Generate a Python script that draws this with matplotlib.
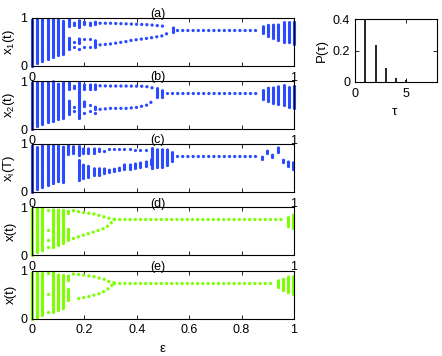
import matplotlib
matplotlib.use('Agg')
import matplotlib.pyplot as plt

plt.rcParams['font.family'] = ['Liberation Sans', 'DejaVu Sans']
plt.rcParams['mathtext.default'] = 'regular'
plt.rcParams['font.size'] = 9

BLUE = '#2a4bff'
GREEN = '#7cff00'

# ---------------- panel (a) ----------------
a_seg_eps = [0, 0.02, 0.04, 0.06, 0.08, 0.10, 0.12,
             0.14, 0.14, 0.16, 0.18, 0.18, 0.18, 0.20, 0.22, 0.24, 0.24, 0.537,
             0.88, 0.90, 0.92, 0.94, 0.96, 0.98, 1.0]
a_seg_lo = [0, 0.06, 0.11, 0.15, 0.19, 0.22, 0.24,
            0.83, 0.36, 0.85, 0.81, 0.48, 0.35, 0.87, 0.86, 0.88, 0.40, 0.70,
            0.68, 0.625, 0.58, 0.54, 0.51, 0.49, 0.46]
a_seg_hi = [1, 1, 1, 1, 0.98, 0.98, 0.98,
            0.97, 0.60, 0.94, 0.97, 0.60, 0.40, 0.94, 0.93, 0.93, 0.54, 0.82,
            0.83, 0.875, 0.90, 0.90, 0.92, 0.92, 0.94]
a_pt_eps = [0.16, 0.16, 0.20, 0.20, 0.22, 0.22]
a_pt_y = [0.51, 0.40, 0.57, 0.40, 0.57, 0.40]
a_up_eps = [0.26, 0.30, 0.374, 0.445, 0.50, 0.517]
a_up_y = [0.89, 0.89, 0.875, 0.86, 0.83, 0.81]
a_low_eps = [0.26, 0.30, 0.36, 0.374, 0.445, 0.50, 0.517]
a_low_y = [0.44, 0.46, 0.51, 0.53, 0.58, 0.63, 0.68]
a_fix_eps = [0.555, 0.87]
a_fix_y = [0.756, 0.756]

# ---------------- panel (b) ----------------
b_seg_eps = [0, 0.02, 0.04, 0.06, 0.08, 0.10, 0.12,
             0.14, 0.14, 0.16, 0.16, 0.16, 0.18, 0.20, 0.20, 0.20, 0.22, 0.24, 0.24, 0.24,
             0.477, 0.495,
             0.88, 0.90, 0.92, 0.94, 0.96, 0.98, 1.0]
b_seg_lo = [0, 0.06, 0.10, 0.14, 0.16, 0.20, 0.22,
            0.84, 0.32, 0.86, 0.46, 0.37, 0.23, 0.83, 0.47, 0.33, 0.83, 0.84, 0.42, 0.33,
            0.67, 0.67,
            0.62, 0.58, 0.55, 0.52, 0.49, 0.46, 0.43]
b_seg_hi = [1, 1, 1, 0.99, 0.99, 0.98, 0.97,
            0.97, 0.61, 0.93, 0.51, 0.40, 0.98, 0.95, 0.60, 0.37, 0.93, 0.93, 0.47, 0.37,
            0.87, 0.81,
            0.84, 0.87, 0.89, 0.90, 0.91, 0.92, 0.93]
b_pt_eps = [0.22, 0.22, 0.515]
b_pt_y = [0.50, 0.37, 0.74]
b_up_eps = [0.26, 0.30, 0.36, 0.42, 0.44, 0.465]
b_up_y = [0.90, 0.895, 0.895, 0.89, 0.88, 0.85]
b_low_eps = [0.26, 0.30, 0.36, 0.40, 0.44, 0.455, 0.465]
b_low_y = [0.41, 0.43, 0.43, 0.45, 0.50, 0.56, 0.61]
b_fix_eps = [0.535, 0.87]
b_fix_y = [0.74, 0.74]

# ---------------- panel (c) ----------------
c_seg_eps = [0, 0.02, 0.04, 0.06, 0.08, 0.10, 0.12,
             0.139, 0.158,
             0.178, 0.196, 0.215, 0.238, 0.256, 0.276,
             0.178, 0.196, 0.215, 0.238, 0.256, 0.276, 0.295, 0.314, 0.333, 0.352,
             0.374, 0.393, 0.412, 0.434, 0.453,
             0.457, 0.476, 0.495, 0.514, 0.533,
             0.879, 0.896, 0.915, 0.938, 0.957, 0.976, 0.997]
c_seg_lo = [0, 0.06, 0.10, 0.15, 0.19, 0.22, 0.20,
            0.80, 0.82,
            0.78, 0.82, 0.82, 0.82, 0.85, 0.86,
            0.25, 0.29, 0.32, 0.36, 0.36, 0.40, 0.42, 0.43, 0.45, 0.47,
            0.48, 0.50, 0.53, 0.55, 0.58,
            0.50, 0.53, 0.53, 0.57, 0.64,
            0.69, 0.81, 0.72, 0.83, 0.62, 0.55, 0.47]
c_seg_hi = [1, 0.98, 0.98, 0.98, 0.98, 0.97, 0.97,
            0.97, 0.97,
            0.97, 0.92, 0.92, 0.92, 0.92, 0.90,
            0.68, 0.61, 0.57, 0.52, 0.52, 0.50, 0.50, 0.52, 0.55, 0.58,
            0.61, 0.62, 0.64, 0.66, 0.68,
            0.92, 0.92, 0.90, 0.89, 0.85,
            0.74, 0.90, 0.80, 0.93, 0.69, 0.64, 0.62]
c_pt_eps = [0.295, 0.314, 0.333, 0.352, 0.374, 0.393, 0.412, 0.434]
c_pt_y = [0.89, 0.89, 0.89, 0.89, 0.89, 0.885, 0.88, 0.88]
c_up_eps = []
c_up_y = []
c_low_eps = []
c_low_y = []
c_fix_eps = [0.552, 0.86]
c_fix_y = [0.76, 0.76]

# ---------------- panel (d) ----------------
d_seg_eps = [0, 0.02, 0.04, 0.079, 0.098, 0.117, 0.139, 0.139, 0.976, 0.997]
d_seg_lo = [0, 0.07, 0.12, 0.18, 0.215, 0.26, 0.875, 0.32, 0.61, 0.56]
d_seg_hi = [1, 1, 0.98, 0.98, 0.96, 0.96, 0.94, 0.60, 0.84, 0.88]
d_pt_eps = [0.06, 0.06, 0.06, 0.06]
d_pt_y = [0.94, 0.53, 0.32, 0.17]
d_up_eps = [0.158, 0.196, 0.238, 0.276, 0.295, 0.314]
d_up_y = [0.93, 0.89, 0.86, 0.80, 0.77, 0.75]
d_low_eps = [0.158, 0.196, 0.238, 0.276, 0.295, 0.314]
d_low_y = [0.35, 0.42, 0.49, 0.56, 0.63, 0.75]
d_fix_eps = [0.314, 0.957]
d_fix_y = [0.75, 0.75]

# ---------------- panel (e) ----------------
e_seg_eps = [0, 0.02, 0.04, 0.079, 0.098, 0.117, 0.139, 0.139,
             0.938, 0.957, 0.976, 0.997]
e_seg_lo = [0, 0.04, 0.07, 0.15, 0.19, 0.22, 0.81, 0.39,
            0.67, 0.60, 0.56, 0.52]
e_seg_hi = [1, 1, 0.98, 0.98, 0.96, 0.96, 0.93, 0.65,
            0.82, 0.87, 0.90, 0.91]
e_pt_eps = [0.06, 0.06, 0.06]
e_pt_y = [0.96, 0.52, 0.15]
e_up_eps = [0.158, 0.196, 0.238, 0.276, 0.295, 0.314]
e_up_y = [0.93, 0.91, 0.875, 0.82, 0.77, 0.75]
e_low_eps = [0.178, 0.215, 0.256, 0.276, 0.295, 0.314]
e_low_y = [0.42, 0.46, 0.52, 0.57, 0.64, 0.75]
e_fix_eps = [0.314, 0.92]
e_fix_y = [0.75, 0.75]

# ---------------- inset P(tau) ----------------
tau = [1, 2, 3, 4, 5, 6]
p_tau = [0.40, 0.235, 0.086, 0.028, 0.011, 0.002]

panels = [
    ('(a)', r'x$_1$(t)', BLUE, a_seg_eps, a_seg_lo, a_seg_hi, a_pt_eps, a_pt_y,
     a_up_eps, a_up_y, a_low_eps, a_low_y, a_fix_eps, a_fix_y),
    ('(b)', r'x$_2$(t)', BLUE, b_seg_eps, b_seg_lo, b_seg_hi, b_pt_eps, b_pt_y,
     b_up_eps, b_up_y, b_low_eps, b_low_y, b_fix_eps, b_fix_y),
    ('(c)', r'x$_i$(T)', BLUE, c_seg_eps, c_seg_lo, c_seg_hi, c_pt_eps, c_pt_y,
     c_up_eps, c_up_y, c_low_eps, c_low_y, c_fix_eps, c_fix_y),
    ('(d)', 'x(t)', GREEN, d_seg_eps, d_seg_lo, d_seg_hi, d_pt_eps, d_pt_y,
     d_up_eps, d_up_y, d_low_eps, d_low_y, d_fix_eps, d_fix_y),
    ('(e)', 'x(t)', GREEN, e_seg_eps, e_seg_lo, e_seg_hi, e_pt_eps, e_pt_y,
     e_up_eps, e_up_y, e_low_eps, e_low_y, e_fix_eps, e_fix_y),
]

W, H = 442, 356
fig = plt.figure(figsize=(W / 100, H / 100), dpi=100)

left_px, width_px, height_px = 32, 262, 48
bottoms_px = [66, 129, 192, 255.3, 318.7]

LW = 2.4
dot_style = (0, (0.01, 1.55))
stripe_style = (0, (0.01, 0.65))

for i, (title, ylab, col, seps, slo, shi, peps, py, ueps, uy, leps, ly, feps, fy) in enumerate(panels):
    ax = fig.add_axes([left_px / W, 1 - bottoms_px[i] / H, width_px / W, height_px / H])
    ax.vlines(seps, slo, shi, colors=col, lw=LW, linestyles=[stripe_style],
              capstyle='round', clip_on=False)
    ax.scatter(peps, py, s=LW ** 2 * 0.9, color=col, lw=0, clip_on=False)
    for xe, ye in ((ueps, uy), (leps, ly), (feps, fy)):
        if xe:
            ax.plot(xe, ye, ls=dot_style, lw=LW, color=col, dash_capstyle='round',
                    clip_on=False)
    ax.set_xlim(0, 1)
    ax.set_ylim(0, 1)
    ax.set_yticks([0, 1])
    ax.set_yticklabels(['0', '1'])
    ax.set_xticks([0, 0.2, 0.4, 0.6, 0.8, 1.0])
    if i < 4:
        ax.set_xticklabels(['0', '', '', '', '', '1'])
    else:
        ax.set_xticklabels(['0', '0.2', '0.4', '0.6', '0.8', '1'])
        ax.set_xlabel('ε', fontsize=9.5)
        ax.xaxis.set_label_coords(0.5, -0.5)
    ax.tick_params(direction='in', top=True, right=True, length=3, width=0.6)
    ax.tick_params(axis='x', pad=4)
    ax.tick_params(axis='y', pad=3.5)
    for s in ax.spines.values():
        s.set_linewidth(0.8)
    ax.set_ylabel(ylab, fontsize=9.5)
    ax.yaxis.set_label_coords(-0.058, 0.5)
    ax.set_title(title, pad=0.5, fontsize=9, x=0.48)

axi = fig.add_axes([355 / W, 1 - 82 / H, 82 / W, 63 / H])
axi.vlines(tau, 0, p_tau, colors='black', lw=1.2)
axi.set_xlim(0, 8)
axi.set_ylim(0, 0.4)
axi.set_xticks([0, 5])
axi.set_xticklabels(['0', '5'])
axi.set_yticks([0, 0.2, 0.4])
axi.set_yticklabels(['0', '0.2', '0.4'])
axi.tick_params(direction='in', top=True, right=True, length=3, width=0.6)
axi.tick_params(axis='x', pad=4)
axi.tick_params(axis='y', pad=3.5)
for s in axi.spines.values():
    s.set_linewidth(0.8)
axi.set_ylabel('P(τ)', fontsize=9.5)
axi.yaxis.set_label_coords(-0.33, 0.5)
axi.set_xlabel('τ', fontsize=9.5)
axi.xaxis.set_label_coords(0.48, -0.38)

fig.savefig('out.png', dpi=100)
